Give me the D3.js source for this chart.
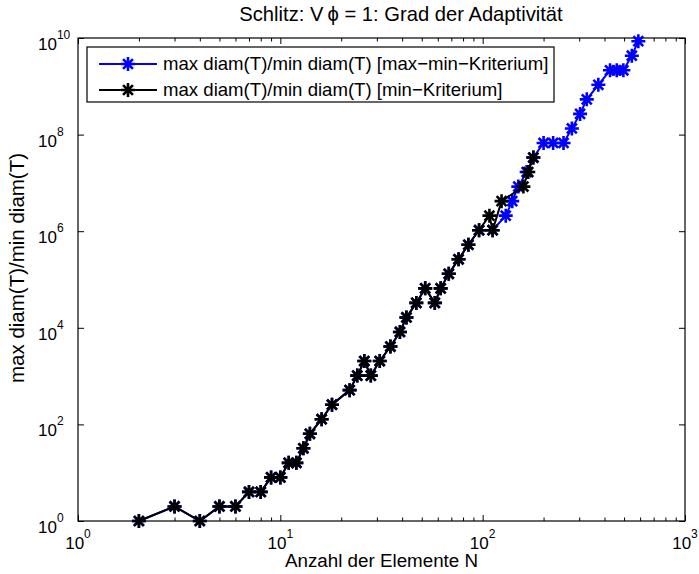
<!DOCTYPE html>
<html>
<head>
<meta charset="utf-8">
<script src="https://cdn.jsdelivr.net/npm/d3@7"></script>
<style>
body { margin: 0; background: #fff; }
text { font-family: "Liberation Sans", Arial, sans-serif; fill: #000; }
</style>
</head>
<body>
<svg id="fig"></svg>
<script>
var width = 699,
	height = 574;
var margin = ({top: 38, right: 14, bottom: 53, left: 78});
var markerR = 7;

// Anzahl der Elemente N and max diam / min diam, min-Kriterium (black)
var blackN = [2, 3, 4, 5, 6, 7, 8, 9, 10, 11, 12, 13, 14, 16, 18, 22, 24, 26, 28, 31, 35, 39, 42, 47, 52, 58, 62, 68, 76, 85, 96, 108, 112, 124, 159, 168, 178];
var blackRatio = [1, 2, 1, 2, 2, 4, 4, 8, 8, 16, 16, 32, 64, 128, 256, 512, 1024, 2048, 1024, 2048, 4096, 8192, 16384, 32768, 65536, 32768, 65536, 131072, 262144, 524288, 1048576, 2097152, 1048576, 4194304, 8388608, 16777216, 33554432];

// max-min-Kriterium (blue)
var blueN = [2, 3, 4, 5, 6, 7, 8, 9, 10, 11, 12, 13, 14, 16, 18, 22, 24, 26, 28, 31, 35, 39, 42, 47, 52, 58, 62, 68, 76, 85, 96, 112, 130, 140, 150, 165, 178, 200, 223, 251, 276, 303, 327, 373, 426, 460, 496, 546, 588];
var blueRatio = [1, 2, 1, 2, 2, 4, 4, 8, 8, 16, 16, 32, 64, 128, 256, 512, 1024, 2048, 1024, 2048, 4096, 8192, 16384, 32768, 65536, 32768, 65536, 131072, 262144, 524288, 1048576, 1048576, 2097152, 4194304, 8388608, 16777216, 33554432, 67108864, 67108864, 67108864, 134217728, 268435456, 536870912, 1073741824, 2147483648, 2147483648, 2147483648, 4294967296, 8589934592];

var xTickVals = [1, 10, 100, 1000];
var xTickExp = ["0", "1", "2", "3"];
var yTickVals = [1, 1e2, 1e4, 1e6, 1e8, 1e10];
var yTickExp = ["0", "2", "4", "6", "8", "10"];
var legendLabels = ["max diam(T)/min diam(T) [max\u2212min\u2212Kriterium]", "max diam(T)/min diam(T) [min\u2212Kriterium]"];

var svg = d3.select('#fig')
	.attr('width', width)
	.attr('height', height);

var x = d3.scaleLog()
	.domain([1, 1000])
	.range([margin.left, width - margin.right]);

var y = d3.scaleLog()
	.domain([1, 1e10])
	.range([height - margin.bottom, margin.top]);

// minor ticks 2..9 per decade on x
var xMinor = [];
for (var dec = 1; dec < 1000; dec *= 10) {
	for (var m = 2; m <= 9; m++) xMinor.push(dec * m);
}

var axesG = svg.append('g');

// bottom + top x ticks (inward)
axesG.append('g')
	.attr('transform', 'translate(0,' + (height - margin.bottom) + ')')
	.call(d3.axisBottom(x).tickValues(xMinor).tickSizeInner(-3.5).tickSizeOuter(0).tickFormat(''))
	.call(g => g.select('.domain').remove());
axesG.append('g')
	.attr('transform', 'translate(0,' + margin.top + ')')
	.call(d3.axisTop(x).tickValues(xMinor).tickSizeInner(-3.5).tickSizeOuter(0).tickFormat(''))
	.call(g => g.select('.domain').remove());
axesG.append('g')
	.attr('transform', 'translate(0,' + (height - margin.bottom) + ')')
	.call(d3.axisBottom(x).tickValues(xTickVals).tickSizeInner(-6).tickSizeOuter(0).tickFormat(''))
	.call(g => g.select('.domain').remove());
axesG.append('g')
	.attr('transform', 'translate(0,' + margin.top + ')')
	.call(d3.axisTop(x).tickValues(xTickVals).tickSizeInner(-6).tickSizeOuter(0).tickFormat(''))
	.call(g => g.select('.domain').remove());

// left + right y ticks
axesG.append('g')
	.attr('transform', 'translate(' + margin.left + ',0)')
	.call(d3.axisLeft(y).tickValues(yTickVals).tickSizeInner(-6).tickSizeOuter(0).tickFormat(''))
	.call(g => g.select('.domain').remove());
axesG.append('g')
	.attr('transform', 'translate(' + (width - margin.right) + ',0)')
	.call(d3.axisRight(y).tickValues(yTickVals).tickSizeInner(-6).tickSizeOuter(0).tickFormat(''))
	.call(g => g.select('.domain').remove());

axesG.selectAll('.tick line').attr('stroke', '#000');

// box
svg.append('rect')
	.attr('x', margin.left)
	.attr('y', margin.top)
	.attr('width', width - margin.left - margin.right)
	.attr('height', height - margin.top - margin.bottom)
	.attr('fill', 'none')
	.attr('stroke', '#000')
	.attr('stroke-width', 1.2);

// tick labels 10^k
var xLab = svg.append('g')
	.selectAll('text')
	.data(xTickVals)
	.join('text')
		.attr('x', d => x(d))
		.attr('y', height - margin.bottom + 28)
		.attr('text-anchor', 'middle')
		.attr('font-size', 17);
xLab.append('tspan').text('10');
xLab.append('tspan')
	.attr('dy', -11)
	.attr('font-size', 12)
	.text((d, i) => xTickExp[i]);

var yLab = svg.append('g')
	.selectAll('text')
	.data(yTickVals)
	.join('text')
		.attr('x', 38)
		.attr('y', d => y(d) + 12)
		.attr('font-size', 17);
yLab.append('tspan').text('10');
yLab.append('tspan')
	.attr('dy', -11)
	.attr('font-size', 12)
	.text((d, i) => yTickExp[i]);

// asterisk marker, like matlab '*'
function asterisk(r) {
	var d = r * 0.7071;
	return 'M' + (-r) + ',0L' + r + ',0M0,' + (-r) + 'L0,' + r +
		'M' + (-d) + ',' + (-d) + 'L' + d + ',' + d +
		'M' + (-d) + ',' + d + 'L' + d + ',' + (-d);
}

var line = d3.line();

function drawSeries(ns, vals, color) {
	var pts = ns.map((n, i) => [x(n), y(vals[i])]);
	svg.append('path')
		.attr('d', line(pts))
		.attr('fill', 'none')
		.attr('stroke', color)
		.attr('stroke-width', 2);
	svg.append('g')
		.selectAll('path')
		.data(pts)
		.join('path')
			.attr('transform', p => 'translate(' + p[0] + ',' + p[1] + ')')
			.attr('d', asterisk(markerR))
			.attr('fill', 'none')
			.attr('stroke', color)
			.attr('stroke-width', 2.6);
}

drawSeries(blueN, blueRatio, '#0000ff');
drawSeries(blackN, blackRatio, '#000000');

// legend
var legend = svg.append('g');
legend.append('rect')
	.attr('x', 87)
	.attr('y', 47)
	.attr('width', 467)
	.attr('height', 55)
	.attr('fill', '#fff')
	.attr('stroke', '#000')
	.attr('stroke-width', 1.2);
var legendColors = ['#0000ff', '#000000'];
legendLabels.forEach(function(lbl, i) {
	var ly = 64 + i * 26;
	legend.append('line')
		.attr('x1', 99).attr('x2', 157)
		.attr('y1', ly).attr('y2', ly)
		.attr('stroke', legendColors[i])
		.attr('stroke-width', 2);
	legend.append('path')
		.attr('transform', 'translate(128,' + ly + ')')
		.attr('d', asterisk(markerR))
		.attr('stroke', legendColors[i])
		.attr('stroke-width', 2.6);
	legend.append('text')
		.attr('x', 163)
		.attr('y', ly + 6)
		.attr('font-size', 18.6)
		.text(lbl);
});

// title and axis labels
svg.append('text')
	.attr('x', 401)
	.attr('y', 21)
	.attr('text-anchor', 'middle')
	.attr('font-size', 20.2)
	.text('Schlitz: V\u2009\u03D5 = 1: Grad der Adaptivit\u00E4t');

svg.append('text')
	.attr('x', (margin.left + width - margin.right) / 2)
	.attr('y', 567)
	.attr('text-anchor', 'middle')
	.attr('font-size', 18.8)
	.text('Anzahl der Elemente N');

svg.append('text')
	.attr('transform', 'translate(24,268) rotate(-90)')
	.attr('text-anchor', 'middle')
	.attr('font-size', 20.5)
	.text('max diam(T)/min diam(T)');
</script>
</body>
</html>
